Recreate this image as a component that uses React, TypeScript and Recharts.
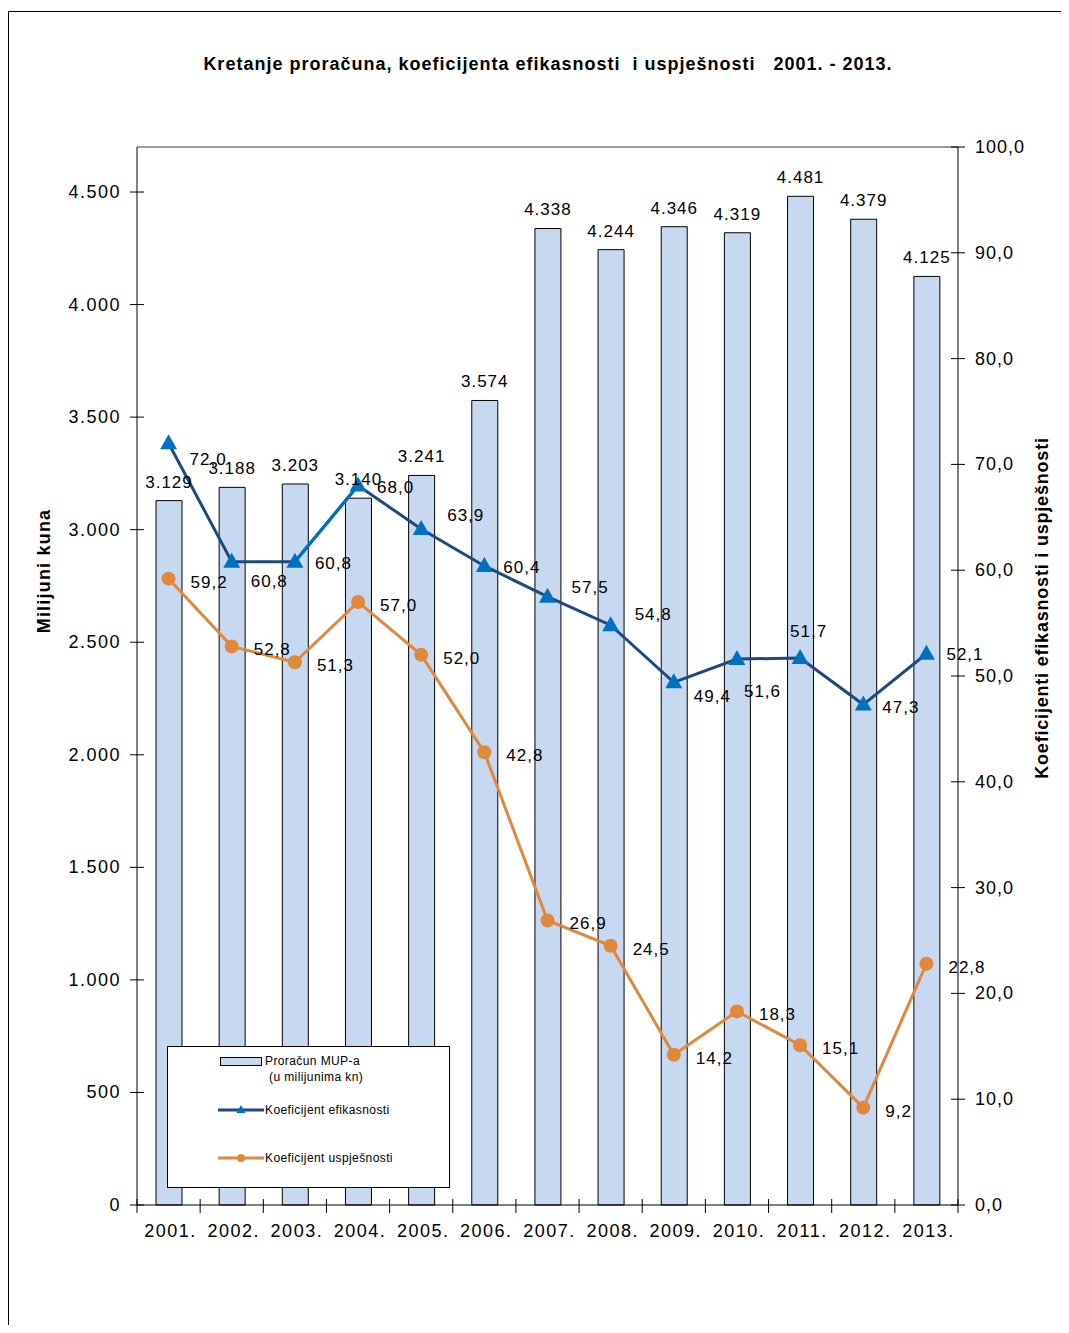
import React from 'react';
import {
  ComposedChart,
  Bar,
  Line,
  XAxis,
  YAxis,
  LabelList,
  ReferenceLine
} from 'recharts';

const years = ['2001.', '2002.', '2003.', '2004.', '2005.', '2006.', '2007.', '2008.', '2009.', '2010.', '2011.', '2012.', '2013.'];
const proracun = [3129, 3188, 3203, 3140, 3241, 3574, 4338, 4244, 4346, 4319, 4481, 4379, 4125];
const efikasnost = [72.0, 60.8, 60.8, 68.0, 63.9, 60.4, 57.5, 54.8, 49.4, 51.6, 51.7, 47.3, 52.1];
const uspjesnost = [59.2, 52.8, 51.3, 57.0, 52.0, 42.8, 26.9, 24.5, 14.2, 18.3, 15.1, 9.2, 22.8];
const highlightYears = ['2003.', '2004.'];
const leftTicks = [0, 500, 1000, 1500, 2000, 2500, 3000, 3500, 4000, 4500];
const rightTicks = [0, 10, 20, 30, 40, 50, 60, 70, 80, 90, 100];

// label nudges for the efficiency line (labels in the original are placed by hand)
const efikLabelDx = [21, 19, 20, 19, 26, 19, 24, 24, 20, 7, -10, 19, 20];
const efikLabelDy = [16, 19, 1, 1, -14, 1, -10, -11, 14, 32, -27, 2, 0];

const data = years.map((year, i) => ({
  year,
  proracun: proracun[i],
  efik: efikasnost[i],
  usp: uspjesnost[i],
  efikHi: highlightYears.includes(year) ? efikasnost[i] : null
}));

const FONT = '"Liberation Sans", Arial, sans-serif';
const W = 1053;
const H = 1317;
const PLOT_LEFT = 129;
const PLOT_RIGHT = 950;
const PLOT_TOP = 139;
const BAND = (PLOT_RIGHT - PLOT_LEFT) / years.length;

const thousands = (v: number) => String(v).replace(/\B(?=(\d{3})+(?!\d))/g, '.');
const decimal = (v: number) => v.toFixed(1).replace('.', ',');

const NAVY = '#1F497D';
const BLUE = '#0070C0';
const ORANGE = '#E0883C';
const BARFILL = '#C6D9F1';

const XTick = (props: any) => {
  const { x, y, payload, index } = props;
  return (
    <g>
      <line x1={x - BAND / 2} x2={x - BAND / 2} y1={y - 6} y2={y + 8} stroke="#000" />
      {index === years.length - 1 && (
        <line x1={x + BAND / 2} x2={x + BAND / 2} y1={y - 6} y2={y + 8} stroke="#000" />
      )}
      <text x={x + 2} y={y + 32} textAnchor="middle" fontSize={18} letterSpacing={1.5} fontFamily={FONT} fill="#000">
        {payload.value}
      </text>
    </g>
  );
};

const LeftTick = (props: any) => {
  const { x, y, payload } = props;
  return (
    <g>
      <line x1={x - 7} x2={x + 7} y1={y} y2={y} stroke="#000" />
      <text x={x - 16} y={y + 6} textAnchor="end" fontSize={18} letterSpacing={1.5} fontFamily={FONT} fill="#000">
        {thousands(payload.value)}
      </text>
    </g>
  );
};

const RightTick = (props: any) => {
  const { x, y, payload } = props;
  return (
    <g>
      <line x1={x - 7} x2={x + 7} y1={y} y2={y} stroke="#000" />
      <text x={x + 17} y={y + 6} textAnchor="start" fontSize={18} letterSpacing={1} fontFamily={FONT} fill="#000">
        {decimal(payload.value)}
      </text>
    </g>
  );
};

const Triangle = (props: any) => {
  const { cx, cy, index } = props;
  if (cx == null || cy == null) return <g key={index} />;
  return (
    <path key={index} d={`M${cx},${cy - 9} L${cx - 8.5},${cy + 6} L${cx + 8.5},${cy + 6} Z`} fill={BLUE} />
  );
};

const Circle = (props: any) => {
  const { cx, cy, index } = props;
  if (cx == null || cy == null) return <g key={index} />;
  return <circle key={index} cx={cx} cy={cy} r={7} fill={ORANGE} />;
};

const EfikLabel = (props: any) => {
  const { x, y, value, index } = props;
  return (
    <text x={x + efikLabelDx[index]} y={y + efikLabelDy[index] + 6} fontSize={17} letterSpacing={1} fontFamily={FONT} fill="#000">
      {decimal(value)}
    </text>
  );
};

const UspLabel = (props: any) => {
  const { x, y, value } = props;
  return (
    <text x={x + 22} y={y + 9} fontSize={17} letterSpacing={1} fontFamily={FONT} fill="#000">
      {decimal(value)}
    </text>
  );
};

const BarLabel = (props: any) => {
  const { x, y, width, value } = props;
  return (
    <text x={x + width / 2} y={y - 13} textAnchor="middle" fontSize={17} letterSpacing={1} fontFamily={FONT} fill="#000">
      {thousands(value)}
    </text>
  );
};

const legendText: React.CSSProperties = {
  position: 'absolute',
  fontSize: 12,
  letterSpacing: 0.4,
  fontFamily: FONT,
  color: '#000',
  lineHeight: '14px',
  whiteSpace: 'nowrap'
};

const ChartLegend = () => (
  <div
    style={{
      position: 'absolute',
      left: 159,
      top: 1038,
      width: 283,
      height: 142,
      border: '1px solid #000',
      background: '#fff',
      boxSizing: 'border-box'
    }}
  >
    <div style={{ position: 'absolute', left: 52, top: 10, width: 40, height: 7, background: BARFILL, border: '1px solid #000' }} />
    <div style={{ ...legendText, left: 97, top: 7 }}>Proračun MUP-a</div>
    <div style={{ ...legendText, left: 101, top: 23 }}>(u milijunima kn)</div>
    <svg style={{ position: 'absolute', left: 50, top: 55 }} width={46} height={16}>
      <line x1={0} x2={46} y1={8} y2={8} stroke={NAVY} strokeWidth={3} />
      <path d="M23,3 L18.5,11 L27.5,11 Z" fill={BLUE} />
    </svg>
    <div style={{ ...legendText, left: 97, top: 56 }}>Koeficijent efikasnosti</div>
    <svg style={{ position: 'absolute', left: 50, top: 103 }} width={46} height={16}>
      <line x1={0} x2={46} y1={8} y2={8} stroke={ORANGE} strokeWidth={3} />
      <circle cx={23} cy={8} r={4} fill={ORANGE} />
    </svg>
    <div style={{ ...legendText, left: 97, top: 104 }}>Koeficijent uspješnosti</div>
  </div>
);

export default function App() {
  return (
    <div style={{ position: 'relative', width: W, height: H, overflow: 'hidden', background: '#fff' }}>
      <ComposedChart
        width={W}
        height={H}
        data={data}
        margin={{ top: PLOT_TOP, right: 0, bottom: 80, left: 0 }}
      >
        <XAxis
          dataKey="year"
          height={40}
          axisLine={{ stroke: '#000' }}
          tickLine={false}
          tickSize={0}
          tickMargin={0}
          interval={0}
          tick={<XTick />}
        />
        <YAxis
          yAxisId="left"
          width={PLOT_LEFT}
          domain={[0, 4700]}
          ticks={leftTicks}
          axisLine={{ stroke: '#000' }}
          tickLine={false}
          tickSize={0}
          tickMargin={0}
          tick={<LeftTick />}
        />
        <YAxis
          yAxisId="right"
          orientation="right"
          width={W - PLOT_RIGHT}
          domain={[0, 100]}
          ticks={rightTicks}
          axisLine={{ stroke: '#000' }}
          tickLine={false}
          tickSize={0}
          tickMargin={0}
          tick={<RightTick />}
        />
        <ReferenceLine yAxisId="left" y={4700} stroke="#999" strokeWidth={2} />
        <Bar
          yAxisId="left"
          dataKey="proracun"
          fill={BARFILL}
          stroke="#000"
          strokeWidth={1}
          barSize={26}
          isAnimationActive={false}
        >
          <LabelList dataKey="proracun" content={<BarLabel />} />
        </Bar>
        <Line
          yAxisId="right"
          dataKey="efik"
          stroke={NAVY}
          strokeWidth={3}
          dot={<Triangle />}
          activeDot={false}
          isAnimationActive={false}
        >
          <LabelList dataKey="efik" content={<EfikLabel />} />
        </Line>
        <Line
          yAxisId="right"
          dataKey="efikHi"
          stroke={BLUE}
          strokeWidth={3}
          dot={false}
          activeDot={false}
          isAnimationActive={false}
        />
        <Line
          yAxisId="right"
          dataKey="usp"
          stroke={ORANGE}
          strokeWidth={3}
          dot={<Circle />}
          activeDot={false}
          isAnimationActive={false}
        >
          <LabelList dataKey="usp" content={<UspLabel />} />
        </Line>
      </ComposedChart>
      <svg
        width={W}
        height={H}
        style={{ position: 'absolute', left: 0, top: 0, pointerEvents: 'none' }}
      >
        <line x1={0.5} x2={W} y1={3.5} y2={3.5} stroke="#000" />
        <line x1={0.5} x2={0.5} y1={3.5} y2={H} stroke="#000" />
        <text
          x={540}
          y={62}
          textAnchor="middle"
          fontSize={18}
          fontWeight="bold"
          letterSpacing={1}
          fontFamily={FONT}
          fill="#000"
          style={{ whiteSpace: 'pre' }}
        >
          {'Kretanje proračuna, koeficijenta efikasnosti  i uspješnosti   2001. - 2013.'}
        </text>
        <text
          transform="translate(42,563) rotate(-90)"
          textAnchor="middle"
          fontSize={18}
          fontWeight="bold"
          letterSpacing={1.2}
          fontFamily={FONT}
          fill="#000"
        >
          Milijuni kuna
        </text>
        <text
          transform="translate(1040,600) rotate(-90)"
          textAnchor="middle"
          fontSize={18}
          fontWeight="bold"
          letterSpacing={0.8}
          fontFamily={FONT}
          fill="#000"
        >
          Koeficijenti efikasnosti i uspješnosti
        </text>
      </svg>
      <ChartLegend />
    </div>
  );
}
